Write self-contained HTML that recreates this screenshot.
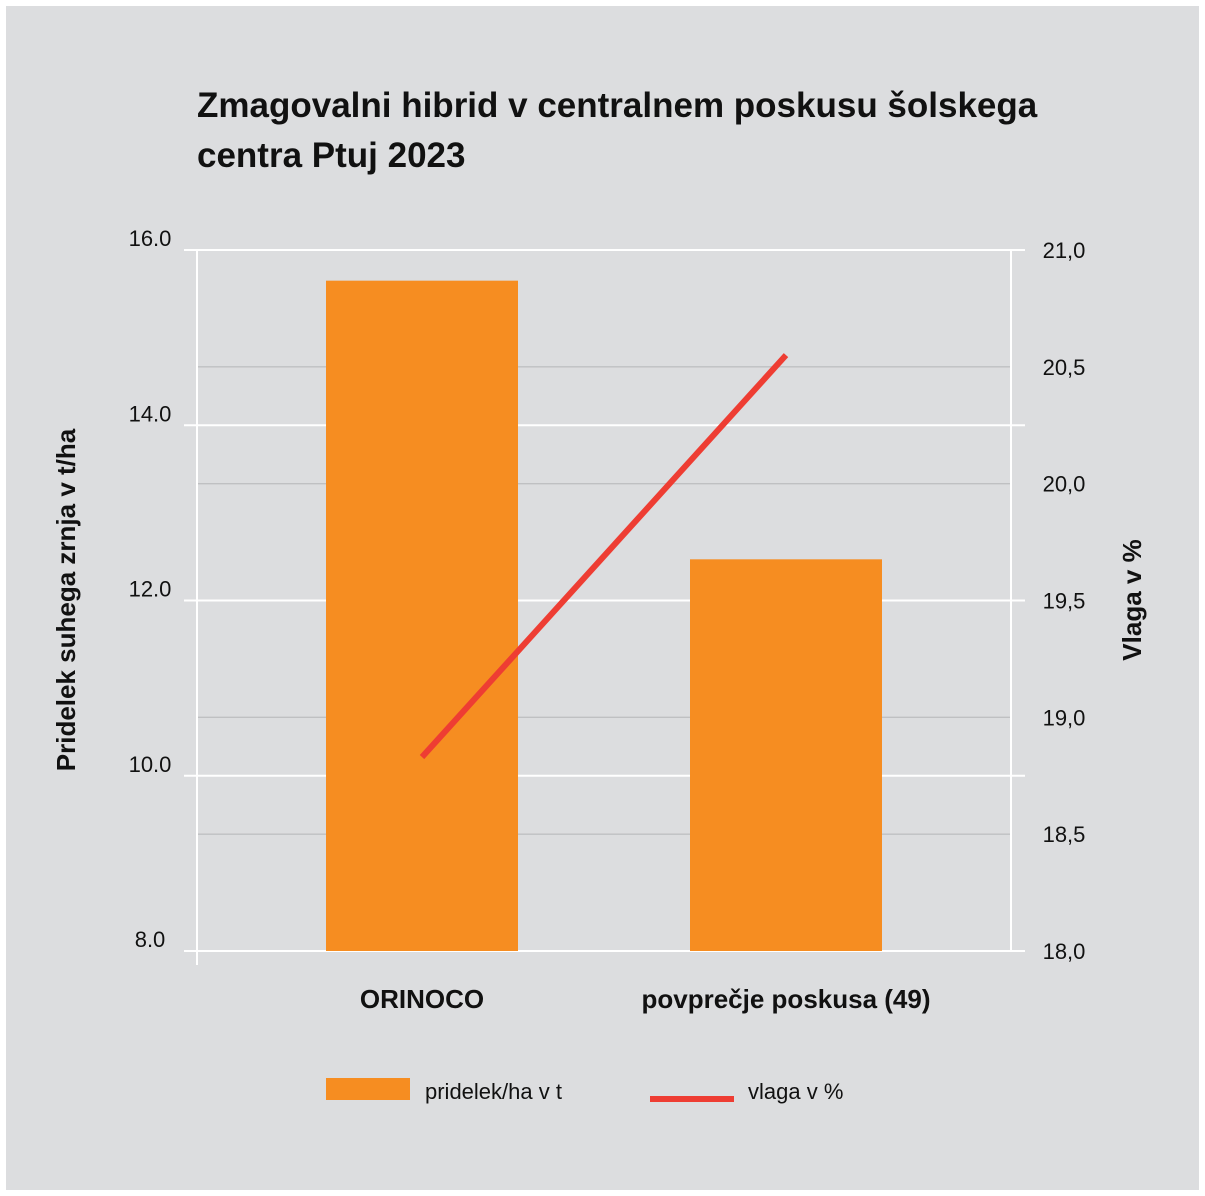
<!DOCTYPE html>
<html><head><meta charset="utf-8"><style>
body{margin:0;background:#fff;}
svg{display:block;font-family:"Liberation Sans","DejaVu Sans",sans-serif;}
</style></head><body>
<svg width="1205" height="1196" viewBox="0 0 1205 1196">
<rect x="6" y="6" width="1193" height="1184" fill="#dcdddf"/>
<text x="197" y="117" font-size="35" font-weight="bold" fill="#111">Zmagovalni hibrid v centralnem poskusu šolskega</text>
<text x="197" y="167" font-size="35" font-weight="bold" fill="#111">centra Ptuj 2023</text>
<g id="grid"></g>
<g id="bars"></g>
<g id="line"></g>
<g id="labels"></g>
<text transform="translate(75,600) rotate(-90)" text-anchor="middle" font-size="26" font-weight="bold" fill="#111">Pridelek suhega zrnja v t/ha</text>
<text transform="translate(1141,600) rotate(-90)" text-anchor="middle" font-size="26" font-weight="bold" fill="#111">Vlaga v %</text>
<rect x="326" y="1078" width="84" height="22" fill="#f68d21"/>
<text x="425" y="1099" font-size="22" fill="#111">pridelek/ha v t</text>
<rect x="650" y="1096" width="84" height="6" fill="#ee3d33"/>
<text x="748" y="1099" font-size="22" fill="#111">vlaga v %</text>
</svg>
<script>
const categories=["ORINOCO","povprečje poskusa (49)"];
const yieldValues=[15.65,12.47];
const moistureValues=[18.83,20.55];
const leftTicks=["8.0","10.0","12.0","14.0","16.0"];
const rightTicks=["18,0","18,5","19,0","19,5","20,0","20,5","21,0"];
const NS="http://www.w3.org/2000/svg";
const yTop=250,yBot=951;
function yL(v){return yBot-(v-8)/(16-8)*(yBot-yTop);}
function yR(v){return yBot-(v-18)/(21-18)*(yBot-yTop);}
const catX=[422,786],barW=192;
function mk(tag,attrs,parent){const e=document.createElementNS(NS,tag);for(const k in attrs)e.setAttribute(k,attrs[k]);document.getElementById(parent).appendChild(e);return e;}
rightTicks.forEach(t=>{const v=parseFloat(t.replace(',','.'));const y=yR(v);
 const g=mk('line',{x1:197,x2:1011,y1:y,y2:y,stroke:'#bfc0c2','stroke-width':1.3},'grid');
 
 
 const tx=mk('text',{x:1064,y:y+8,'text-anchor':'middle','font-size':22,fill:'#111'},'labels');tx.textContent=t;
 
 });
leftTicks.forEach(t=>{const y=yL(parseFloat(t));
 const g=mk('line',{x1:184,x2:1025,y1:y,y2:y,stroke:'#fff','stroke-width':2},'grid');
 
 
 const tx=mk('text',{x:150,y:y-4,'text-anchor':'middle','font-size':22,fill:'#111'},'labels');tx.textContent=t;
 
 });
const ax=mk('line',{x1:197,x2:197,y1:yTop,y2:965,stroke:'#fff','stroke-width':2},'grid');


const ax2=mk('line',{x1:1011,x2:1011,y1:yTop,y2:yBot,stroke:'#fff','stroke-width':2},'grid');


categories.forEach((c,i)=>{const y=yL(yieldValues[i]);
 const b=mk('rect',{x:catX[i]-barW/2,y:y,width:barW,height:yBot-y,fill:'#f68d21'},'bars');
 
 
 const tx=mk('text',{x:catX[i],y:1008,'text-anchor':'middle','font-size':26,'font-weight':'bold',fill:'#111'},'labels');tx.textContent=c;
 
 });
const pts=moistureValues.map((v,i)=>catX[i]+','+yR(v)).join(' ');
const pl=mk('polyline',{points:pts,fill:'none',stroke:'#ee3d33','stroke-width':6},'line');


</script>
</body></html>
